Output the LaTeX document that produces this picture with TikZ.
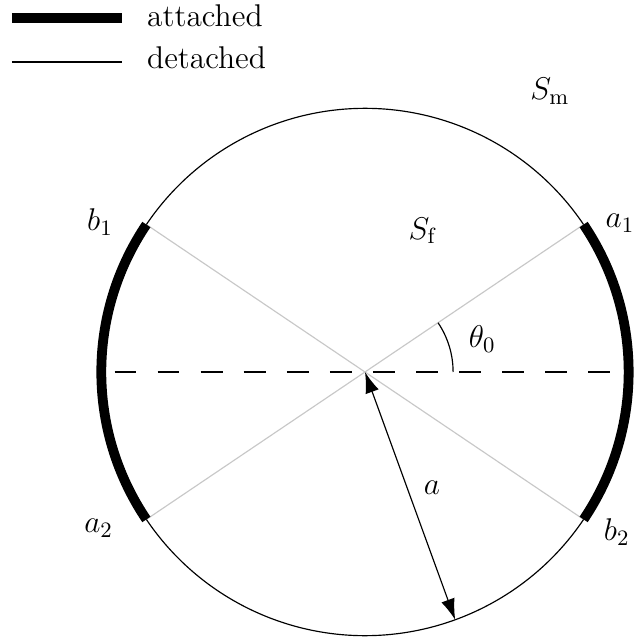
\RequirePackage{fix-cm}
\documentclass[tikz,border=0pt]{standalone}
\usepackage{xcolor}
\usepackage{tikz}
\usetikzlibrary{arrows.meta, positioning, calc}
\definecolor{mydark}{RGB}{0,0,0}
\definecolor{mygrey}{RGB}{200,200,200}
\tikzset{
  attached/.style={line width=4.2pt, color=mydark},
  detached/.style={line width=0.5pt, color=mydark},
  radial/.style={line width=0.5pt, color=mygrey},
  axisline/.style={line width=0.5pt, color=mydark, dash pattern=on 0.33cm off 0.32cm, dash phase=0.45cm},
  radarrow/.style={{Latex[length=9pt,width=6pt]}-{Latex[length=9pt,width=6pt]}, line width=0.5pt, color=mydark},
  lbl/.style={font=\fontsize{13.5}{16}\selectfont, inner sep=1pt}
}

\begin{document}
\begin{tikzpicture}
  \useasboundingbox (-5.509,-4.030) rectangle (4.060,5.615);
  \def\R{3.98}
  \def\th{34}

  % Points on the circle
  \coordinate (O) at (0,0);
  \coordinate (A1) at (\th:\R);
  \coordinate (B1) at (180-\th:\R);
  \coordinate (A2) at (180+\th:\R);
  \coordinate (B2) at (-\th:\R);
  \coordinate (L) at (180:\R);
  \coordinate (Rt) at (0:\R);
  \coordinate (Bot) at (-70:\R);

  % Legend
  \coordinate (legA) at (-5.33,5.343);
  \coordinate (legB) at (-3.67,5.343);
  \coordinate (legC) at (-5.33,4.679);
  \coordinate (legD) at (-3.67,4.679);
  \draw[attached] (legA) -- (legB);
  \draw[detached] (legC) -- (legD);
  \node[lbl, anchor=west] (txtatt) at (-3.33,5.38) {attached};
  \node[lbl, anchor=west] (txtdet) at (-3.33,4.75) {detached};

  % Grey radial lines
  \draw[radial] (A1) -- (A2);
  \draw[radial] (B1) -- (B2);

  % Axis
  \draw[axisline] (L) -- (Rt);

  % Circle
  \draw[detached] (A1) arc (\th:180-\th:\R);
  \draw[detached] (A2) arc (180+\th:360-\th:\R);
  \draw[attached] (B2) arc (-\th:\th:\R);
  \draw[attached] (B1) arc (180-\th:180+\th:\R);

  % Angle
  \draw[detached] (1.33,0) arc (0:\th:1.33);
  \node[lbl] (theta) at (1.77,0.50) {$\theta_0$};

  % Radius
  \draw[radarrow] (O) -- (Bot);
  \node[lbl] (rad) at (1.01,-1.75) {$a$};

  % Labels
  \node[lbl] (la1) at (3.85,2.25) {$a_1$};
  \node[lbl] (lb1) at (-4.0,2.26) {$b_1$};
  \node[lbl] (la2) at (-4.02,-2.36) {$a_2$};
  \node[lbl] (lb2) at (3.80,-2.42) {$b_2$};
  \node[lbl] (sf) at (0.875,2.13) {$S_{\mathrm{f}}$};
  \node[lbl] (sm) at (2.79,4.24) {$S_{\mathrm{m}}$};
\end{tikzpicture}
\end{document}
